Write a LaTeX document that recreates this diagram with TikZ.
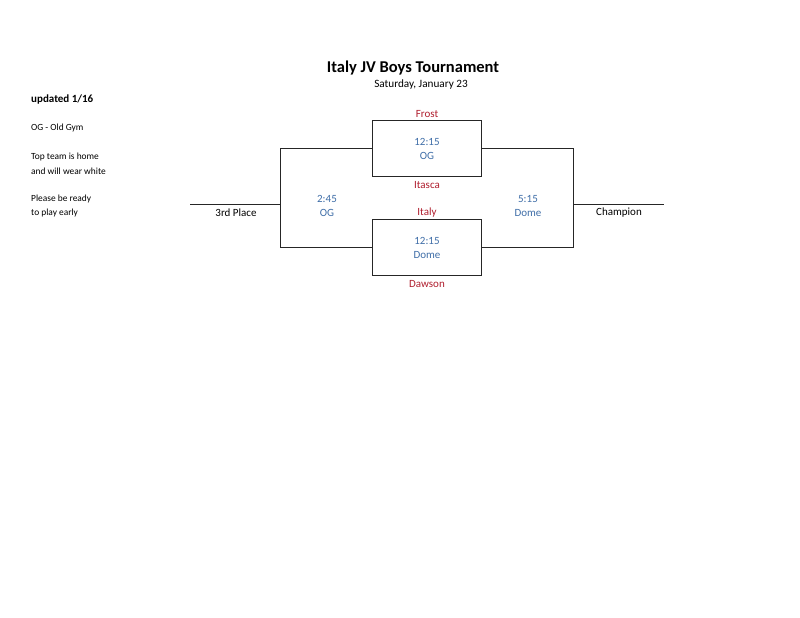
\documentclass[tikz,border=0pt]{standalone}
\usepackage{fontspec}
\setmainfont{Carlito}
\definecolor{teamred}{HTML}{B01E2E}
\definecolor{gameblue}{HTML}{3F6EA8}
\begin{document}
\begin{tikzpicture}[x=1pt,y=-1pt,
  line/.style={draw=black!85, line width=0.9pt},
  gamebox/.style={line, rectangle, minimum width=109pt, minimum height=56pt, inner sep=0pt},
  txt/.style={inner sep=0pt, yshift=-1pt},
  team/.style={txt, text=teamred, font=\fontsize{11}{13}\selectfont},
  game/.style={txt, text=gameblue, font=\fontsize{11}{13}\selectfont},
  label/.style={txt, text=black, font=\fontsize{11}{13}\selectfont},
  note/.style={txt, text=black, font=\fontsize{9.4}{11}\selectfont, anchor=west}]
\useasboundingbox[fill=white] (0,0) rectangle (800,618);
% title
\node[txt, yshift=-1pt, font=\bfseries\fontsize{16.5}{19}\selectfont] (title) at (413,66) {Italy JV Boys Tournament};
\node[txt, font=\fontsize{11.2}{13}\selectfont] (date) at (421,84) {Saturday, January 23};
% notes
\node[note, font=\bfseries\fontsize{11}{13}\selectfont] (upd) at (31,99) {updated 1/16};
\node[note] (og) at (31,127) {OG - Old Gym};
\node[note] (top1) at (31,156) {Top team is home};
\node[note] (top2) at (31,170) {and will wear white};
\node[note] (pl1) at (31,198) {Please be ready};
\node[note] (pl2) at (31,212) {to play early};
% game boxes
\node[gamebox] (tb) at (426.5,148) {};
\node[gamebox] (bb) at (426.5,247) {};
\node[game] (tbt) at (427,141) {12:15};
\node[game] (tbp) at (427,155) {OG};
\node[game] (bbt) at (427,240) {12:15};
\node[game] (bbp) at (427,254) {Dome};
% teams
\node[team] (frost) at (427,113) {Frost};
\node[team] (itasca) at (427,184) {Itasca};
\node[team] (italy) at (427,212) {Italy};
\node[team] (dawson) at (427,283) {Dawson};
% bracket coordinates
\coordinate (lt) at (280,148);
\coordinate (lb) at (280,247);
\coordinate (lm) at (280,204);
\coordinate (le) at (190,204);
\coordinate (rt) at (573,148);
\coordinate (rb) at (573,247);
\coordinate (rm) at (573,204);
\coordinate (re) at (664,204);
\draw[line] (tb.west) -- (lt) -- (lb) -- (bb.west);
\draw[line] (tb.east) -- (rt) -- (rb) -- (bb.east);
\draw[line] (lm) -- (le);
\draw[line] (rm) -- (re);
% later games
\node[game] (lgt) at (327,198) {2:45};
\node[game] (lgp) at (327,212) {OG};
\node[game] (rgt) at (528,198) {5:15};
\node[game] (rgp) at (528,212) {Dome};
\node[label] (third) at (236,212) {3rd Place};
\node[label] (champ) at (619,212) {Champion};
\end{tikzpicture}
\end{document}
